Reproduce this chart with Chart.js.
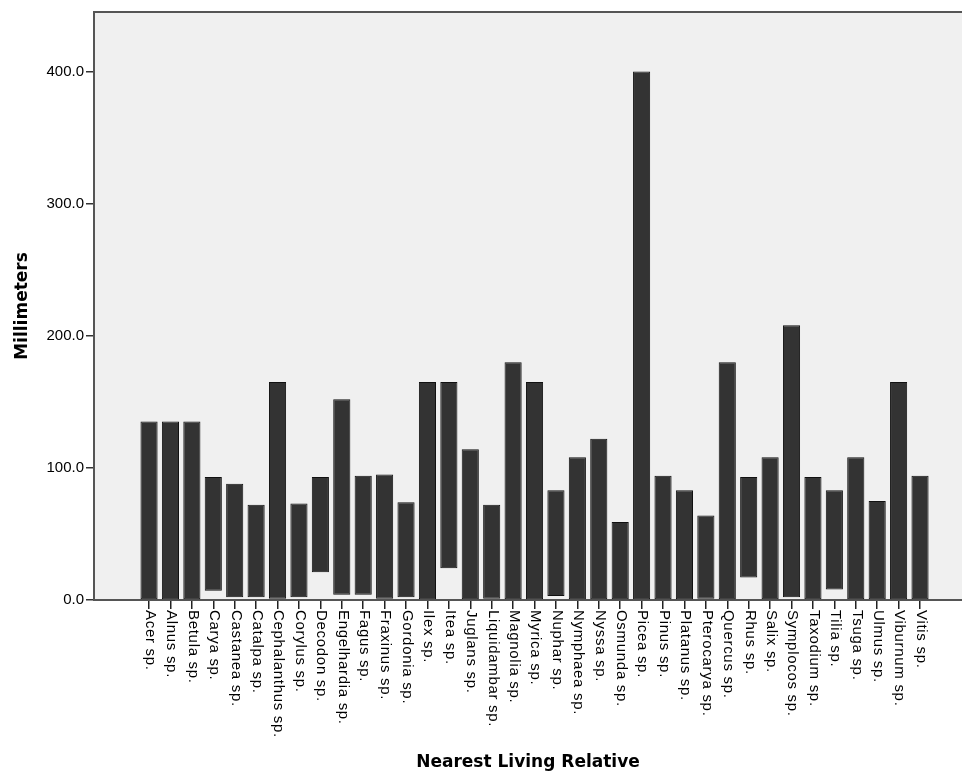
<!DOCTYPE html>
<html>
<head>
<meta charset="utf-8">
<script src="https://cdn.jsdelivr.net/npm/chart.js@4/dist/chart.umd.min.js"></script>
<style>
  html, body { margin: 0; padding: 0; background: #ffffff; }
  #wrap { width: 962px; height: 771px; position: relative; }
</style>
</head>
<body>
<div id="wrap"><canvas id="c" width="962" height="771"></canvas></div>
<script>
const categories = ["Acer sp.", "Alnus sp.", "Betula sp.", "Carya sp.", "Castanea sp.", "Catalpa sp.",
  "Cephalanthus sp.", "Corylus sp.", "Decodon sp.", "Engelhardia sp.", "Fagus sp.", "Fraxinus sp.",
  "Gordonia sp.", "Ilex sp.", "Itea sp.", "Juglans sp.", "Liquidambar sp.", "Magnolia sp.",
  "Myrica sp.", "Nuphar sp.", "Nymphaea sp.", "Nyssa sp.", "Osmunda sp.", "Picea sp.",
  "Pinus sp.", "Platanus sp.", "Pterocarya sp.", "Quercus sp.", "Rhus sp.", "Salix sp.",
  "Symplocos sp.", "Taxodium sp.", "Tilia sp.", "Tsuga sp.", "Ulmus sp.", "Viburnum sp.", "Vitis sp."];
const lowValues = [0, 0, 0, 7, 2, 2, 1, 2, 21, 4, 4, 1, 2, 0, 24, 0, 1, 0, 0, 3, 0, 0, 0, 0,
  0, 0, 1, 0, 17, 0, 2, 0, 8, 0, 0, 0, 0];
const highValues = [135, 135, 135, 93, 88, 72, 165, 73, 93, 152, 94, 95, 74, 165, 165, 114, 72, 180,
  165, 83, 108, 122, 59, 400, 94, 83, 64, 180, 93, 108, 208, 93, 83, 108, 75, 165, 94];
const yTickValues = [0, 100, 200, 300, 400];

const ranges = categories.map((c, i) => ({ x: i, y: [lowValues[i], highValues[i]] }));

const framePlugin = {
  id: 'frame',
  beforeDraw(chart) {
    const a = chart.chartArea, ctx = chart.ctx;
    ctx.save();
    ctx.fillStyle = '#f0f0f0';
    ctx.fillRect(a.left, a.top, a.right - a.left, a.bottom - a.top);
    ctx.restore();
  },
  afterDraw(chart) {
    const a = chart.chartArea, ctx = chart.ctx;
    ctx.save();
    ctx.strokeStyle = '#555555';
    ctx.lineWidth = 2;
    ctx.beginPath();
    ctx.moveTo(a.left, a.top);
    ctx.lineTo(a.right, a.top);
    ctx.stroke();
    // rotated category labels (reading top to bottom)
    const xs = chart.scales.x;
    ctx.fillStyle = '#000000';
    ctx.font = '15px "Liberation Sans", Arial, sans-serif';
    try { ctx.letterSpacing = '0.7px'; } catch (e) {}
    ctx.textAlign = 'left';
    ctx.textBaseline = 'middle';
    categories.forEach((lab, i) => {
      const px = xs.getPixelForValue(i);
      ctx.save();
      ctx.translate(px + 1, xs.top + 10);
      ctx.rotate(Math.PI / 2);
      ctx.fillText(lab, 0, 0);
      ctx.restore();
    });
    ctx.restore();
  }
};

new Chart(document.getElementById('c'), {
  type: 'bar',
  data: {
    datasets: [{
      data: ranges,
      backgroundColor: '#333333',
      borderColor: '#111111',
      borderWidth: 1,
      borderSkipped: false,
      barPercentage: 0.8,
      categoryPercentage: 1.0
    }]
  },
  options: {
    responsive: false,
    animation: false,
    layout: { padding: { top: 12, left: 0, right: 0, bottom: 0 } },
    plugins: { legend: { display: false }, tooltip: { enabled: false } },
    scales: {
      x: {
        type: 'linear',
        offset: false,
        min: -2.57,
        max: 37.96,
        afterBuildTicks(scale) { scale.ticks = categories.map((c, i) => ({ value: i })); },
        afterFit(scale) { scale.height = 171; },
        ticks: { display: false },
        grid: { display: true, offset: false, drawOnChartArea: false, drawTicks: true, tickLength: 9, color: '#222222', lineWidth: 1.5 },
        border: { display: true, color: '#555555', width: 2 },
        title: {
          display: true,
          text: 'Nearest Living Relative',
          color: '#000000',
          font: { family: '"DejaVu Sans", Verdana, sans-serif', size: 17, weight: 'bold' },
          padding: { top: 0, bottom: -2 }
        }
      },
      y: {
        min: 0,
        max: 445,
        afterBuildTicks(scale) { scale.ticks = yTickValues.map(v => ({ value: v })); },
        afterFit(scale) { scale.width = 94; },
        ticks: {
          color: '#000000',
          padding: 2,
          font: { family: '"Liberation Sans", Arial, sans-serif', size: 15 },
          callback: (v) => Number(v).toFixed(1)
        },
        grid: { display: true, drawOnChartArea: false, drawTicks: true, tickLength: 8, color: '#333333', lineWidth: 1.5 },
        border: { display: true, color: '#555555', width: 2 },
        title: {
          display: true,
          text: 'Millimeters',
          color: '#000000',
          font: { family: '"DejaVu Sans", Verdana, sans-serif', size: 17, weight: 'bold' },
          padding: { top: 12, bottom: 0 }
        }
      }
    }
  },
  plugins: [framePlugin]
});
</script>
</body>
</html>
